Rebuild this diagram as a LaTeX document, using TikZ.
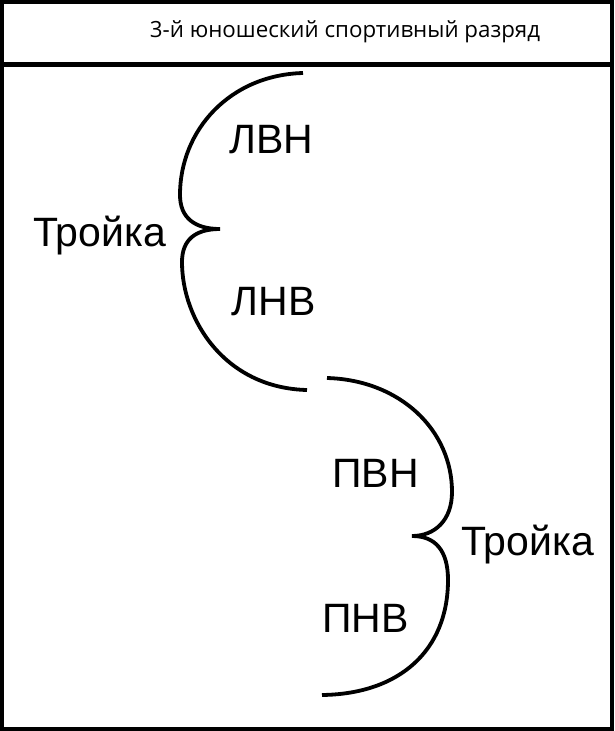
\documentclass[tikz,border=0pt]{standalone}
\usepackage{fontspec}
\setmainfont{Liberation Sans}
\newfontfamily\headfont{Open Sans}
\usetikzlibrary{positioning}

\begin{document}
\begin{tikzpicture}[x=1pt,y=-1pt,line width=3.8pt,
    every node/.style={inner sep=0pt,anchor=base,font=\fontsize{41}{41}\selectfont}]
    \useasboundingbox (0,0) rectangle (614,731);
    \draw[line width=4pt] (2,2) rectangle (612,729);
    \draw[line width=4.5pt] (0,64.5) -- (614,64.5);
    \node[font=\headfont\fontsize{22.3}{22.3}\selectfont] (title) at (345,37) {3-й юношеский спортивный разряд};
    % left group
    \node (lvn) at (271.5,153) {ЛВН};
    \node (lnv) at (273.5,315) {ЛНВ};
    \node (troika_l) at (99.5,246) {Тройка};
    \coordinate (tip_l) at (220,229);
    \draw (303,73) .. controls (230,75) and (180,130) .. (180,195)
        .. controls (180,218) and (195,229) .. (tip_l)
        .. controls (195,229) and (182,240) .. (182,262)
        .. controls (182,320) and (225,388) .. (307,390);
    % right group
    \node (pvn) at (375.5,487) {ПВН};
    \node (pnv) at (365.5,632) {ПНВ};
    \node (troika_r) at (527.5,555) {Тройка};
    \coordinate (tip_r) at (412,536);
    \draw (327,378) .. controls (400,380) and (452,430) .. (452,492)
        .. controls (452,520) and (435,536) .. (tip_r)
        .. controls (435,536) and (448,550) .. (448,580)
        .. controls (448,650) and (400,694) .. (322,695);
\end{tikzpicture}
\end{document}
